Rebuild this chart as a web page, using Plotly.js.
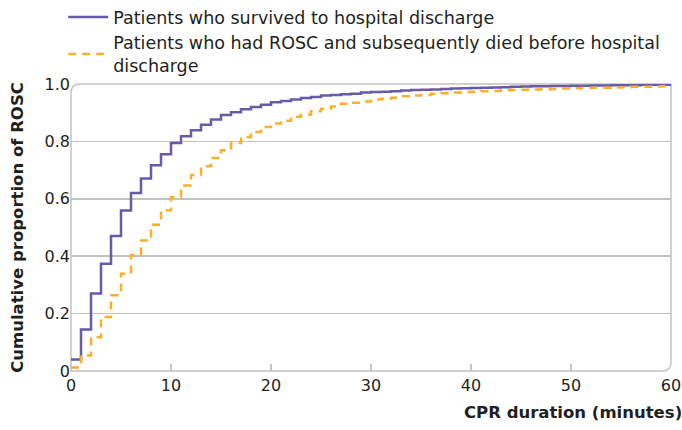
<!DOCTYPE html>
<html>
<head>
<meta charset="utf-8">
<script src="https://cdn.plot.ly/plotly-3.0.1.min.js"></script>
<style>
html,body{margin:0;padding:0;background:#fff;}
#chart{width:682px;height:430px;}
</style>
</head>
<body>
<div id="chart"></div>
<script>
// CPR duration (minutes), step positions
var minutes = [0,1,2,3,4,5,6,7,8,9,10,11,12,13,14,15,16,17,18,19,20,21,22,23,24,25,26,27,28,29,30,31,32,33,34,35,36,37,38,39,40,41,42,43,44,45,46,47,48,49,50,51,52,53,54,55,56,57,58,59,60];

// Cumulative proportion of ROSC - patients who survived to hospital discharge
var survived = [0.040,0.145,0.270,0.374,0.470,0.559,0.620,0.671,0.717,0.755,0.794,0.818,0.839,0.858,0.876,0.892,0.902,0.912,0.920,0.928,0.936,0.941,0.946,0.951,0.955,0.960,0.962,0.964,0.966,0.970,0.972,0.973,0.975,0.977,0.979,0.980,0.981,0.983,0.984,0.985,0.986,0.987,0.988,0.989,0.990,0.991,0.992,0.992,0.993,0.993,0.994,0.994,0.995,0.995,0.996,0.996,0.996,0.997,0.997,0.997,0.997];

// Cumulative proportion of ROSC - patients who had ROSC and subsequently died
var died = [0.012,0.054,0.118,0.188,0.264,0.339,0.403,0.455,0.510,0.560,0.606,0.646,0.683,0.713,0.742,0.769,0.794,0.815,0.833,0.850,0.862,0.872,0.886,0.893,0.905,0.914,0.922,0.931,0.935,0.939,0.946,0.949,0.952,0.957,0.960,0.962,0.966,0.968,0.970,0.972,0.973,0.975,0.976,0.978,0.979,0.980,0.981,0.982,0.983,0.984,0.985,0.986,0.987,0.987,0.988,0.989,0.990,0.990,0.991,0.992,0.992];

var seriesNames = ["Patients who survived to hospital discharge",
                   "Patients who had ROSC and subsequently died before hospital<br>discharge"];
var xTicks = [0,10,20,30,40,50,60];
var yTickVals = [0,0.2,0.4,0.6,0.8,1.0];
var yTickText = ["0","0.2","0.4","0.6","0.8","1.0"];
var xTitle = "CPR duration (minutes)";
var yTitle = "Cumulative proportion of ROSC";

var FONT = "DejaVu Sans, sans-serif";
var TXT = "#231f20";
var GRID = "#c2c2c2";

var traces = [
  {x: minutes, y: survived, name: seriesNames[0], type: "scatter", mode: "lines",
   line: {shape: "hv", color: "#6a5aa8", width: 2.5}},
  {x: minutes, y: died, name: seriesNames[1], type: "scatter", mode: "lines",
   line: {shape: "hv", color: "#fbb02a", width: 2.5, dash: "8px,6px"}}
];

var rx = 9/600, ry = 9/287;
var layout = {
  width: 682, height: 430,
  margin: {l: 71, r: 11, t: 84, b: 59, autoexpand: false},
  paper_bgcolor: "#fff", plot_bgcolor: "#fff",
  font: {family: FONT, size: 16, color: TXT},
  showlegend: true,
  legend: {x: -0.013, xanchor: "left", y: 1.0, yanchor: "bottom",
           font: {family: FONT, size: 17.5, color: TXT}, bgcolor: "rgba(0,0,0,0)",
           itemwidth: 40, tracegroupgap: 0},
  xaxis: {range: [0, 60], tickvals: xTicks, showgrid: false, zeroline: false,
          showline: false, ticks: "inside", ticklen: 7, tickwidth: 1.5, tickcolor: GRID,
          ticklabelstandoff: 3,
          tickfont: {family: FONT, size: 16, color: TXT}, fixedrange: true},
  yaxis: {range: [0, 1.0], tickvals: yTickVals, ticktext: yTickText,
          showgrid: true, gridcolor: GRID, gridwidth: 1.5, zeroline: false, showline: false,
          ticks: "", tickfont: {family: FONT, size: 16, color: TXT},
          title: {text: yTitle, font: {family: FONT, size: 16.5, color: TXT, weight: "bold"}, standoff: 16},
          fixedrange: true},
  shapes: [{
    type: "path", xref: "paper", yref: "paper",
    path: "M0,0 L0," + (1-ry) + " Q0,1 " + rx + ",1 L1,1 L1," + ry + " Q1,0 " + (1-rx) + ",0 Z",
    line: {color: GRID, width: 1.5}, fillcolor: "rgba(0,0,0,0)", layer: "below"
  }],
  annotations: [{
    text: xTitle, xref: "paper", yref: "paper", x: 1.022, xanchor: "right",
    y: -0.146, yanchor: "middle", showarrow: false,
    font: {family: FONT, size: 16.5, color: TXT, weight: "bold"}
  }]
};

Plotly.newPlot("chart", traces, layout, {displayModeBar: false, staticPlot: true});
</script>
</body>
</html>
